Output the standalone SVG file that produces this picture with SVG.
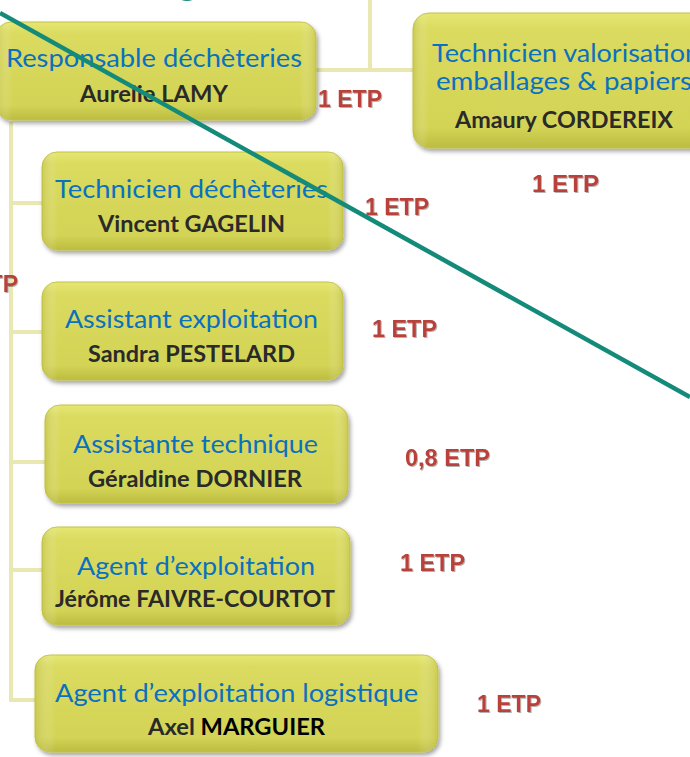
<svg xmlns="http://www.w3.org/2000/svg" width="690" height="757" viewBox="0 0 690 757">
<defs>
  <linearGradient id="boxFill" x1="0" y1="0" x2="0" y2="1">
    <stop offset="0" stop-color="#e6e774"/>
    <stop offset="0.12" stop-color="#dadb5f"/>
    <stop offset="0.85" stop-color="#d3d456"/>
    <stop offset="1" stop-color="#bcbc40"/>
  </linearGradient>
  <linearGradient id="boxSide" x1="0" y1="0" x2="1" y2="0">
    <stop offset="0" stop-color="#b8b83c" stop-opacity="0.45"/>
    <stop offset="0.05" stop-color="#ffffff" stop-opacity="0"/>
    <stop offset="0.95" stop-color="#ffffff" stop-opacity="0"/>
    <stop offset="1" stop-color="#b8b83c" stop-opacity="0.45"/>
  </linearGradient>
  <filter id="shadow" x="-10%" y="-10%" width="125%" height="135%">
    <feDropShadow dx="2" dy="3" stdDeviation="2.2" flood-color="#000" flood-opacity="0.35"/>
  </filter>
  <filter id="tshadow" x="-10%" y="-20%" width="130%" height="150%">
    <feDropShadow dx="1" dy="1" stdDeviation="0.6" flood-color="#000" flood-opacity="0.3"/>
  </filter>
</defs>
<style>
  .box { fill: url(#boxFill); stroke: #c2c247; stroke-width: 1; filter: url(#shadow); }
  .side { fill: url(#boxSide); stroke: none; }
  .title { font-family: "Lato", "Open Sans", sans-serif; font-size: 25.5px; fill: #0a70c0; }
  .name { font-family: "Lato", "Open Sans", sans-serif; font-weight: bold; font-size: 22px; fill: #2a2a2a; }
  .etp { font-family: "Liberation Sans", Arial, sans-serif; font-weight: bold; font-size: 23px; fill: #b8433a; filter: url(#tshadow); }
  .conn { stroke: #e9e7b2; stroke-width: 4; fill: none; }
</style>
<rect width="690" height="757" fill="#ffffff"/>

<g id="connectors">
  <line class="conn" x1="370" y1="0" x2="370" y2="72"/>
  <line class="conn" x1="314" y1="70" x2="414" y2="70"/>
  <polyline class="conn" points="11,122 11,700 38,700"/>
  <line class="conn" x1="11" y1="203" x2="44" y2="203"/>
  <line class="conn" x1="11" y1="332" x2="44" y2="332"/>
  <line class="conn" x1="11" y1="462" x2="47" y2="462"/>
  <line class="conn" x1="11" y1="570" x2="44" y2="570"/>
</g>

<g id="node-responsable">
  <rect class="box" x="-4" y="22" width="320" height="98" rx="15"/>
  <rect class="side" x="-4" y="22" width="320" height="98" rx="15"/>
  <text class="title" x="6" y="67" textLength="296" lengthAdjust="spacingAndGlyphs">Responsable déchèteries</text>
  <text class="name" x="80" y="102" textLength="148" lengthAdjust="spacingAndGlyphs">Aurelie LAMY</text>
</g>

<g id="node-valorisation">
  <rect class="box" x="413" y="13" width="302" height="135" rx="16"/>
  <rect class="side" x="413" y="13" width="302" height="135" rx="16"/>
  <text class="title" x="432" y="62" textLength="268" lengthAdjust="spacingAndGlyphs">Technicien valorisation</text>
  <text class="title" x="436" y="90" textLength="256" lengthAdjust="spacingAndGlyphs">emballages &amp; papiers</text>
  <text class="name" x="455" y="128" textLength="218" lengthAdjust="spacingAndGlyphs">Amaury CORDEREIX</text>
</g>

<g id="node-technicien">
  <rect class="box" x="42" y="152" width="301" height="98" rx="15"/>
  <rect class="side" x="42" y="152" width="301" height="98" rx="15"/>
  <text class="title" x="55" y="198" textLength="273" lengthAdjust="spacingAndGlyphs">Technicien déchèteries</text>
  <text class="name" x="98" y="232" textLength="187" lengthAdjust="spacingAndGlyphs">Vincent GAGELIN</text>
</g>

<g id="node-assistant-exploitation">
  <rect class="box" x="42" y="282" width="301" height="98" rx="15"/>
  <rect class="side" x="42" y="282" width="301" height="98" rx="15"/>
  <text class="title" x="65" y="328" textLength="253" lengthAdjust="spacingAndGlyphs">Assistant exploitation</text>
  <text class="name" x="88" y="362" textLength="207" lengthAdjust="spacingAndGlyphs">Sandra PESTELARD</text>
</g>

<g id="node-assistante-technique">
  <rect class="box" x="45" y="405" width="303" height="98" rx="15"/>
  <rect class="side" x="45" y="405" width="303" height="98" rx="15"/>
  <text class="title" x="73" y="453" textLength="245" lengthAdjust="spacingAndGlyphs">Assistante technique</text>
  <text class="name" x="88" y="487" textLength="214" lengthAdjust="spacingAndGlyphs">Géraldine DORNIER</text>
</g>

<g id="node-agent">
  <rect class="box" x="42" y="527" width="308" height="98" rx="15"/>
  <rect class="side" x="42" y="527" width="308" height="98" rx="15"/>
  <text class="title" x="77" y="575" textLength="238" lengthAdjust="spacingAndGlyphs">Agent d’exploitation</text>
  <text class="name" x="55" y="607" textLength="280" lengthAdjust="spacingAndGlyphs">Jérôme FAIVRE-COURTOT</text>
</g>

<g id="node-agent-logistique">
  <rect class="box" x="35" y="655" width="403" height="97" rx="15"/>
  <rect class="side" x="35" y="655" width="403" height="97" rx="15"/>
  <text class="title" x="55" y="702" textLength="363" lengthAdjust="spacingAndGlyphs">Agent d’exploitation logistique</text>
  <text class="name" x="148" y="735" textLength="177" lengthAdjust="spacingAndGlyphs">Axel <tspan fill="#000000">MARGUIER</tspan></text>
</g>

<g id="etp-labels">
  <text class="etp" x="318" y="107" textLength="64" lengthAdjust="spacingAndGlyphs">1 ETP</text>
  <text class="etp" x="532" y="192" textLength="67" lengthAdjust="spacingAndGlyphs">1 ETP</text>
  <text class="etp" x="365" y="215" textLength="64" lengthAdjust="spacingAndGlyphs">1 ETP</text>
  <text class="etp" x="372" y="337" textLength="65" lengthAdjust="spacingAndGlyphs">1 ETP</text>
  <text class="etp" x="405" y="466" textLength="85" lengthAdjust="spacingAndGlyphs">0,8 ETP</text>
  <text class="etp" x="400" y="571" textLength="65" lengthAdjust="spacingAndGlyphs">1 ETP</text>
  <text class="etp" x="477" y="712" textLength="64" lengthAdjust="spacingAndGlyphs">1 ETP</text>
  <text class="etp" x="18" y="292" text-anchor="end">1 ETP</text>
</g>

<g id="overlay">
  <ellipse cx="187" cy="-4" rx="9" ry="5" fill="#1a8a7a"/>
  <line x1="0" y1="13" x2="690" y2="397" stroke="#148a79" stroke-width="4.5"/>
</g>
</svg>
